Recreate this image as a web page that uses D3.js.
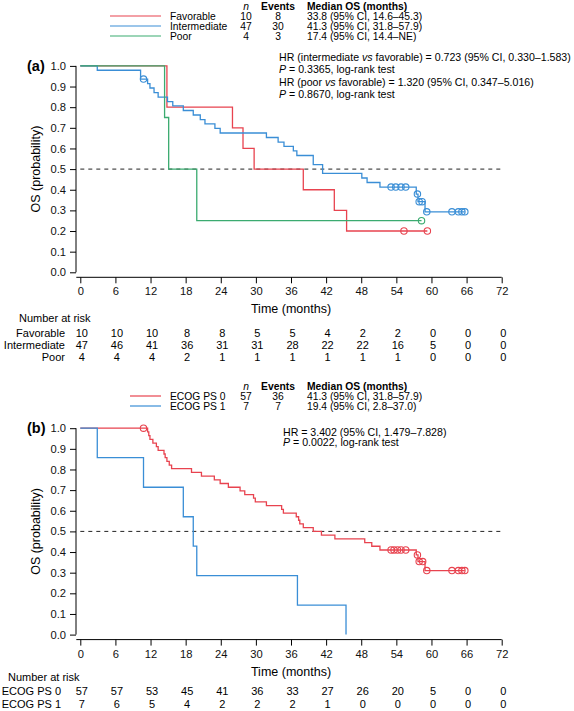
<!DOCTYPE html>
<html><head><meta charset="utf-8">
<script src="https://cdn.jsdelivr.net/npm/d3@7"></script>
<style>
html,body{margin:0;padding:0;background:#fff;}
svg{display:block;font-family:"Liberation Sans",Arial,Helvetica,sans-serif;}
</style></head>
<body><svg id="c" width="574" height="711"></svg>
<script>
// ---------- shared ticks ----------
const monthTicks = [0,6,12,18,24,30,36,42,48,54,60,66,72];
const probTicks = [0,0.1,0.2,0.3,0.4,0.5,0.6,0.7,0.8,0.9,1.0];

// ---------- panel (a) ----------
const groupsA = ["Favorable","Intermediate","Poor"];
const nA = [10,47,4];
const eventsA = [8,30,3];
const medianA = ["33.8 (95% CI, 14.6–45.3)","41.3 (95% CI, 31.8–57.9)","17.4 (95% CI, 14.4–NE)"];

const favTime = [0,14.8,26.0,27.8,29.7,38.1,43.4,45.5,59.3];
const favSurv = [1,0.8,0.7,0.6,0.5,0.4,0.3,0.2,0.2];
const favCensT = [55.3,59.3];
const favCensS = [0.2,0.2];

const intTime = [0,2.9,10.3,11.5,11.9,12.6,13.3,14.9,15.8,17.6,19.3,20.5,21.3,23.0,23.9,31.8,33.8,34.8,36.4,37.0,39.8,41.4,48.1,49.0,51.2,57.4,57.7,58.9,65.7];
const intSurv = [1,0.979,0.936,0.914,0.893,0.871,0.849,0.827,0.806,0.784,0.762,0.740,0.719,0.697,0.675,0.653,0.631,0.610,0.588,0.566,0.522,0.479,0.457,0.435,0.413,0.379,0.342,0.293,0.293];
const intCensT = [10.8,53.1,53.9,54.8,55.6,57.6,57.9,58.4,59.2,63.5,64.6,65.2,65.7];
const intCensS = [0.936,0.413,0.413,0.413,0.413,0.379,0.342,0.342,0.293,0.293,0.293,0.293,0.293];

const poorTime = [0,14.4,15.1,19.9,58.3];
const poorSurv = [1,0.75,0.5,0.25,0.25];
const poorCensT = [58.3];
const poorCensS = [0.25];

const riskFav = [10,10,10,8,8,5,5,4,2,2,0,0,0];
const riskInt = [47,46,41,36,31,31,28,22,22,16,5,0,0];
const riskPoor = [4,4,4,2,1,1,1,1,1,1,0,0,0];

// ---------- panel (b) ----------
const groupsB = ["ECOG PS 0","ECOG PS 1"];
const nB = [57,7];
const eventsB = [36,7];
const medianB = ["41.3 (95% CI, 31.8–57.9)","19.4 (95% CI, 2.8–37.0)"];

const ps0Time = [0,11.5,11.7,11.9,12.4,13.0,13.3,14.3,14.5,14.8,15.2,15.6,19.0,20.7,22.9,23.9,25.3,27.3,28.1,29.6,29.9,31.8,34.4,34.7,36.9,37.3,37.5,38.1,39.8,41.2,43.5,48.6,49.8,51.2,57.4,57.7,58.9,65.7];
const ps0Surv = [1,0.982,0.964,0.946,0.928,0.911,0.893,0.875,0.857,0.839,0.821,0.804,0.786,0.768,0.750,0.732,0.714,0.696,0.678,0.661,0.643,0.625,0.607,0.589,0.571,0.554,0.536,0.518,0.500,0.482,0.464,0.446,0.428,0.410,0.386,0.354,0.310,0.310];
const ps0CensT = [10.8,53.1,53.6,54.2,54.8,55.6,57.6,57.9,58.5,59.2,63.5,64.6,65.2,65.7];
const ps0CensS = [1,0.41,0.41,0.41,0.41,0.41,0.386,0.354,0.354,0.31,0.31,0.31,0.31,0.31];

const ps1Time = [0,2.9,10.8,17.6,19.3,19.9,37.1,45.4];
const ps1Surv = [1,0.857,0.714,0.571,0.429,0.286,0.143,0];
const ps1CensT = [];
const ps1CensS = [];

const riskPS0 = [57,57,53,45,41,36,33,27,26,20,5,0,0];
const riskPS1 = [7,6,5,4,2,2,2,1,0,0,0,0,0];

const hrA = [
  [["HR (intermediate ",0],["vs",1],[" favorable) = 0.723 (95% CI, 0.330–1.583)",0]],
  [["P",1],[" = 0.3365, log-rank test",0]],
  [["HR (poor ",0],["vs",1],[" favorable) = 1.320 (95% CI, 0.347–5.016)",0]],
  [["P",1],[" = 0.8670, log-rank test",0]]
];
const hrB = [
  [["HR = 3.402 (95% CI, 1.479–7.828)",0]],
  [["P",1],[" = 0.0022, log-rank test",0]]
];

const RED = "#e8434f", BLUE = "#3a8ed6", GREEN = "#3bab70";

// ---------- drawing ----------
const svg = d3.select("#c");
const x = d3.scaleLinear().domain([0,72]).range([80.3,501.7]);

function panel(cfg){
  const g = svg.append("g");
  const y = d3.scaleLinear().domain([0,1]).range([cfg.y0, cfg.y0 - 206.4]);
  const axX = cfg.y0 + 5;

  // y axis
  const ya = g.append("g").attr("transform","translate(76,0)")
    .call(d3.axisLeft(y).tickValues(probTicks).tickFormat(d3.format(".1f")).tickSize(6).tickPadding(4));
  ya.select(".domain").attr("d",`M0,${y(0)}V${y(1)}`).attr("stroke","#000");
  ya.selectAll("text").attr("font-size",11.2).attr("fill","#111").attr("font-family","Liberation Sans, Arial, sans-serif");
  ya.selectAll("line").attr("stroke","#000");

  // x axis
  const xa = g.append("g").attr("transform",`translate(0,${axX})`)
    .call(d3.axisBottom(x).tickValues(monthTicks).tickSize(6).tickPadding(4));
  xa.select(".domain").attr("d",`M${x(0)-4},0H${x(72)}`).attr("stroke","#000");
  xa.selectAll("text").attr("font-size",11.2).attr("fill","#111").attr("font-family","Liberation Sans, Arial, sans-serif");
  xa.selectAll("line").attr("stroke","#000");

  // titles
  g.append("text").attr("x",x(36)).attr("y",axX+36).attr("text-anchor","middle")
    .attr("font-size",12.5).text("Time (months)");
  g.append("text").attr("transform",`translate(40,${y(0.5)}) rotate(-90)`).attr("text-anchor","middle")
    .attr("font-size",12.5).text("OS (probability)");
  g.append("text").attr("x",27).attr("y",y(1)+5).attr("font-size",14.5).attr("font-weight","bold").text(cfg.tag);

  // median line
  g.append("line").attr("x1",x(0)).attr("x2",x(72)).attr("y1",y(0.5)).attr("y2",y(0.5))
    .attr("stroke","#222").attr("stroke-width",1).attr("stroke-dasharray","4,4");

  // curves
  const line = d3.line().x(d=>x(d[0])).y(d=>y(d[1])).curve(d3.curveStepAfter);
  cfg.series.forEach(s=>{
    const pts = s.t.map((t,i)=>[t,s.s[i]]);
    g.append("path").attr("d",line(pts)).attr("fill","none").attr("stroke",s.color).attr("stroke-width",1.3);
    g.selectAll(null).data(s.ct.map((t,i)=>[t,s.cs[i]])).enter().append("circle")
      .attr("cx",d=>x(d[0])).attr("cy",d=>y(d[1])).attr("r",3.2)
      .attr("fill","none").attr("stroke",s.color).attr("stroke-width",1.1);
  });

  // legend
  const L = cfg.legend, fs = 10.3;
  g.append("text").attr("x",246).attr("y",L.y).attr("font-size",fs).attr("font-style","italic").attr("text-anchor","middle").text("n");
  g.append("text").attr("x",278).attr("y",L.y).attr("font-size",fs).attr("font-weight","bold").attr("text-anchor","middle").text("Events");
  g.append("text").attr("x",307).attr("y",L.y).attr("font-size",fs).attr("font-weight","bold").text("Median OS (months)");
  L.names.forEach((nm,i)=>{
    const yy = L.y + L.dy*(i+1);
    g.append("line").attr("x1",L.lx).attr("x2",161).attr("y1",yy-3.5).attr("y2",yy-3.5)
      .attr("stroke",L.colors[i]).attr("stroke-width",1.2);
    g.append("text").attr("x",170).attr("y",yy).attr("font-size",fs).text(nm);
    g.append("text").attr("x",246).attr("y",yy).attr("font-size",fs).attr("text-anchor","middle").text(L.n[i]);
    g.append("text").attr("x",278).attr("y",yy).attr("font-size",fs).attr("text-anchor","middle").text(L.ev[i]);
    g.append("text").attr("x",307).attr("y",yy).attr("font-size",fs).text(L.med[i]);
  });

  // HR text
  cfg.hr.forEach((row,i)=>{
    const t = g.append("text").attr("x",cfg.hrX).attr("y",cfg.hrY + cfg.hrDy*i).attr("font-size",10.6);
    row.forEach(p=>t.append("tspan").attr("font-style",p[1]?"italic":"normal").text(p[0]));
  });

  // number at risk
  g.append("text").attr("x",cfg.narX).attr("y",cfg.narY).attr("font-size",11).text("Number at risk");
  cfg.risk.forEach((r,i)=>{
    const yy = cfg.rowY[i];
    g.append("text").attr("x",cfg.labX).attr("y",yy).attr("font-size",11).attr("text-anchor","end").text(r.name);
    g.selectAll(null).data(r.v).enter().append("text")
      .attr("x",(d,j)=>x(monthTicks[j])+1.5).attr("y",yy).attr("font-size",11).attr("text-anchor","middle").text(d=>d);
  });
}

panel({
  tag:"(a)", y0:272.3,
  series:[
    {t:favTime,s:favSurv,ct:favCensT,cs:favCensS,color:RED},
    {t:intTime,s:intSurv,ct:intCensT,cs:intCensS,color:BLUE},
    {t:poorTime,s:poorSurv,ct:poorCensT,cs:poorCensS,color:GREEN}
  ],
  legend:{y:9.5,dy:10,lx:110,names:groupsA,n:nA,ev:eventsA,med:medianA,colors:[RED,BLUE,GREEN]},
  hr:hrA, hrX:279, hrY:61, hrDy:12.4,
  narX:19, narY:321.5, labX:65,
  risk:[{name:groupsA[0],v:riskFav},{name:groupsA[1],v:riskInt},{name:groupsA[2],v:riskPoor}],
  rowY:[336.5,349,360.5]
});

panel({
  tag:"(b)", y0:634.6,
  series:[
    {t:ps0Time,s:ps0Surv,ct:ps0CensT,cs:ps0CensS,color:RED},
    {t:ps1Time,s:ps1Surv,ct:ps1CensT,cs:ps1CensS,color:BLUE}
  ],
  legend:{y:389.5,dy:10,lx:130,names:groupsB,n:nB,ev:eventsB,med:medianB,colors:[RED,BLUE]},
  hr:hrB, hrX:283, hrY:435.5, hrDy:10.5,
  narX:8, narY:680.5, labX:61,
  risk:[{name:groupsB[0],v:riskPS0},{name:groupsB[1],v:riskPS1}],
  rowY:[694.5,708]
});
</script></body></html>
